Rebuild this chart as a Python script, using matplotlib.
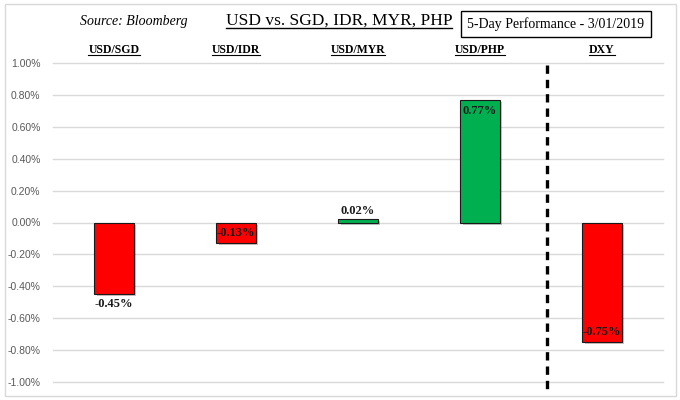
import matplotlib
matplotlib.use("Agg")
import matplotlib.pyplot as plt
import matplotlib.patheffects as pe
from matplotlib.patches import Rectangle
from matplotlib.lines import Line2D
from matplotlib.ticker import FuncFormatter

# data
categories = ["USD/SGD", "USD/IDR", "USD/MYR", "USD/PHP", "DXY"]
values = [-0.45, -0.13, 0.02, 0.77, -0.75]
label_inside = [False, True, False, True, True]
y_ticks = [1.0, 0.8, 0.6, 0.4, 0.2, 0.0, -0.2, -0.4, -0.6, -0.8, -1.0]

RED = "#FF0000"
GREEN = "#00B050"
SERIF = "Liberation Serif"

fig = plt.figure(figsize=(6.8, 4), dpi=100)
W, H = 680, 400


def fx(px):
    return px / W


def fy(py):
    return 1 - py / H


# light frame around the whole chart
fig.patches.append(Rectangle((fx(5), fy(396)), fx(671), 392 / H, transform=fig.transFigure,
                             fill=False, edgecolor="#d9d9d9", lw=1))

ax = fig.add_axes([fx(53), fy(382), fx(610), (382 - 63) / H])
ax.set_xlim(-0.5, 4.5)
ax.set_ylim(-1.0, 1.0)
for s in ax.spines.values():
    s.set_visible(False)
ax.set_xticks([])
ax.set_yticks(y_ticks)
ax.yaxis.set_major_formatter(FuncFormatter(lambda v, p: f"{v:.2f}%"))
ax.tick_params(axis="y", length=0, pad=9, labelsize=7.5, labelcolor="#595959")
for lab in ax.get_yticklabels():
    lab.set_fontfamily("Liberation Sans")
ax.grid(axis="y", color="#d9d9d9", lw=1)
for gl in ax.get_ygridlines():
    gl.set_clip_on(False)
ax.set_axisbelow(True)

colors = [GREEN if v > 0 else RED for v in values]
bars = ax.bar(range(len(values)), values, width=0.32, color=colors,
              edgecolor="#1a1a1a", lw=0.8, zorder=3)
for b in bars:
    b.set_path_effects([pe.SimplePatchShadow(offset=(1.5, -1.5), alpha=0.25), pe.Normal()])

# value labels
for i, (v, inside) in enumerate(zip(values, label_inside)):
    txt = f"{v:.2f}%"
    if v < 0:
        off, va = (3, "bottom") if inside else (-3, "top")
    else:
        off, va = (-4, "top") if inside else (2, "bottom")
    ax.annotate(txt, (i, v), xytext=(0, off), textcoords="offset points", ha="center", va=va,
                fontfamily=SERIF, fontweight="bold", fontsize=9, color="#1a1a1a", zorder=5)

# dashed divider before DXY
ax.plot([3.55, 3.55], [0.99, -1.07], color="black", lw=2.4, linestyle=(0, (2.5, 1.8)),
        clip_on=False, zorder=4)

# header texts
fig.text(fx(80), fy(22), "Source: Bloomberg", fontfamily=SERIF, fontstyle="italic",
         fontsize=10, ha="left", va="center")
title = fig.text(fx(339), fy(21), "USD vs. SGD, IDR, MYR, PHP", fontfamily=SERIF,
                 fontsize=12.5, ha="center", va="center")
fig.text(fx(556), fy(24), "5-Day Performance - 3/01/2019", fontfamily=SERIF, fontsize=10,
         ha="center", va="center",
         bbox=dict(boxstyle="square,pad=0.45", facecolor="white", edgecolor="black", lw=1))

cat_texts = []
for i, c in enumerate(categories):
    x_fig = fig.transFigure.inverted().transform(ax.transData.transform((i, 0)))[0]
    t = fig.text(x_fig, fy(50), c, fontfamily=SERIF, fontweight="bold", fontsize=8.5,
                 ha="center", va="center")
    cat_texts.append(t)

# underline title and category labels
fig.canvas.draw()
renderer = fig.canvas.get_renderer()
inv = fig.transFigure.inverted()
for t, lw in [(title, 1.0)] + [(t, 0.8) for t in cat_texts]:
    bb = t.get_window_extent(renderer)
    (x0, y0), (x1, _) = inv.transform([(bb.x0, bb.y0 + 1), (bb.x1, bb.y0)])
    fig.lines.append(Line2D([x0, x1], [y0, y0], transform=fig.transFigure, color="black", lw=lw))

fig.savefig("out.png", dpi=100)
